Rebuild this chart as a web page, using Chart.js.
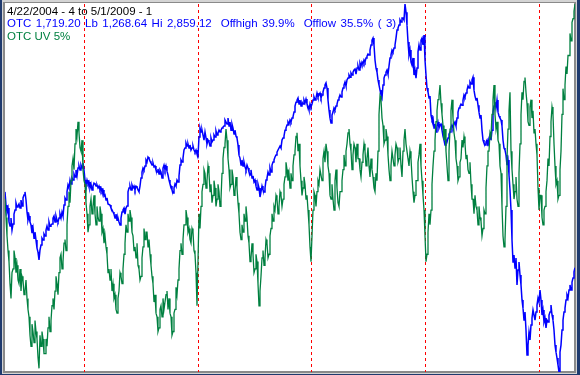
<!DOCTYPE html>
<html>
<head>
<meta charset="utf-8">
<script src="https://cdn.jsdelivr.net/npm/chart.js@4.4.1/dist/chart.umd.min.js"></script>
<style>
  html, body { margin: 0; padding: 0; background: #1f3a6e; }
  #wrap { position: relative; width: 580px; height: 375px; }
  canvas { position: absolute; left: 0; top: 0; }
  .lbl { position: absolute; left: 7px; font-family: "Liberation Sans", Arial, sans-serif; font-size: 11.5px; line-height: 12px; white-space: pre; }
</style>
</head>
<body>
<div id="wrap">
  <canvas id="otcChart" width="580" height="375"></canvas>
  <div class="lbl" id="l1" style="top:5px;color:#000">4/22/2004 - 4 to 5/1/2009 - 1</div>
  <div class="lbl" id="l2" style="top:17px;color:#0000ff;word-spacing:1.3px">OTC 1,719.20 Lb 1,268.64 Hi 2,859.12  Offhigh 39.9%  Offlow 35.5% ( 3)</div>
  <div class="lbl" id="l3" style="top:30px;color:#008040">OTC UV 5%</div>
</div>
<script>
// Periodo do grafico (anos decimais) e marcas de inicio de ano
const startYear = 2004.306;   // 4/22/2004
const endYear = 2009.32;      // fim da serie
const yearMarks = [2005, 2006, 2007, 2008, 2009];

// OTC (Nasdaq)
const otc = [
  2047,1990,1960,1977,1917,1900,1934,1882,1908,1951,1969,1999,1982,1986,1995,1977,2012,1986,2021,2034,
  2047,2012,1960,1925,1943,1917,1904,1869,1891,1847,1873,1839,1804,1787,1753,1796,1817,1847,1839,1865,
  1856,1882,1899,1882,1917,1899,1904,1908,1934,1943,1917,1943,1925,1917,1934,1951,1934,1960,1943,1990,
  2021,2012,2047,2077,2064,2098,2081,2107,2098,2124,2111,2142,2116,2150,2159,2142,2163,2150,2172,2142,
  2098,2077,2098,2081,2090,2064,2081,2055,2072,2085,2081,2072,2077,2064,2072,2055,2064,2047,2055,2029,
  2034,2012,2021,1995,1995,1990,1977,1969,1960,1951,1934,1951,1925,1934,1917,1904,1934,1960,1969,1977,
  1951,1977,1986,2047,2064,2072,2055,2077,2064,2072,2055,2072,2068,2055,2047,2072,2107,2133,2150,2142,
  2159,2185,2176,2198,2193,2180,2172,2163,2172,2155,2159,2142,2133,2146,2124,2142,2133,2107,2150,2163,
  2142,2159,2137,2120,2098,2081,2072,2055,2042,2064,2081,2072,2098,2090,2116,2163,2185,2176,2193,2228,
  2237,2258,2245,2254,2237,2250,2228,2237,2245,2228,2219,2228,2211,2202,2284,2323,2306,2314,2293,2271,
  2306,2280,2254,2271,2263,2245,2280,2263,2271,2293,2284,2310,2293,2301,2314,2306,2314,2323,2327,2332,
  2358,2349,2340,2366,2332,2349,2314,2340,2323,2297,2314,2288,2280,2250,2206,2193,2163,2185,2159,2176,
  2155,2142,2163,2150,2133,2120,2142,2107,2116,2090,2098,2072,2055,2081,2064,2025,2047,2072,2055,2047,
  2064,2098,2107,2133,2120,2150,2133,2163,2176,2185,2198,2206,2219,2228,2228,2245,2237,2271,2280,2288,
  2314,2323,2336,2349,2340,2358,2349,2366,2371,2392,2418,2435,2444,2453,2427,2444,2418,2435,2427,2444,
  2431,2448,2427,2418,2401,2427,2414,2427,2444,2457,2444,2453,2474,2457,2466,2474,2453,2466,2479,2496,
  2509,2518,2496,2444,2401,2366,2345,2379,2392,2410,2401,2418,2427,2444,2453,2466,2457,2479,2496,2509,
  2522,2505,2531,2539,2552,2543,2561,2552,2565,2574,2578,2556,2582,2591,2574,2604,2591,2608,2600,2617,
  2608,2626,2634,2643,2639,2660,2682,2703,2712,2682,2617,2582,2565,2531,2509,2487,2466,2453,2509,2539,
  2552,2565,2574,2556,2591,2626,2639,2660,2652,2669,2682,2712,2747,2755,2768,2790,2781,2799,2799,2790,
  2859.12,2824,2768,2695,2639,2660,2608,2595,2626,2552,2574,2539,2582,2652,2682,2660,2703,2712,2682,2725,
  2617,2552,2496,2479,2453,2461,2379,2358,2366,2323,2340,2306,2332,2349,2323,2336,2340,2314,2288,2271,
  2250,2271,2263,2280,2297,2306,2327,2336,2323,2340,2349,2332,2366,2392,2410,2418,2427,2422,2444,2466,
  2457,2474,2487,2505,2496,2522,2513,2531,2543,2487,2461,2444,2453,2422,2392,2366,2379,2314,2271,2258,
  2250,2263,2271,2245,2280,2293,2271,2314,2392,2418,2435,2410,2444,2392,2375,2366,2358,2332,2271,2237,
  2228,2206,2163,2185,2120,2055,1969,1839,1744,1774,1718,1761,1645,1709,1744,1688,1645,1580,1545,1493,
  1528,1450,1342,1385,1441,1407,1472,1502,1537,1515,1493,1528,1558,1588,1571,1623,1580,1515,1537,1485,
  1502,1459,1493,1485,1515,1528,1558,1515,1493,1450,1385,1355,1329,1299,1268.64,1355,1385,1450,1493,1528,
  1545,1580,1601,1588,1623,1645,1623,1657,1675,1701,1719.20
];

// OTC UV 5%
const uv = [
  47,42,37,33,30,24,20,27,28,33,31,27,29,25,24,28,22,26,25,21,
  22,25,20,17,15,10,7,13,11,8,14,11,9,4,1,10,7,11,9,5,
  5,9,7,12,15,11,14,18,20,17,22,26,24,21,27,31,32,28,30,35,
  36,33,40,45,49,46,52,56,58,55,62,66,64,68,65,61,60,63,55,52,
  51,46,43,38,40,45,47,43,45,48,43,40,45,42,41,45,43,38,39,35,
  37,34,32,27,28,25,28,22,24,20,21,17,16,20,22,27,26,24,28,32,
  35,40,38,43,41,44,42,38,37,33,34,31,35,29,28,25,26,31,34,39,
  36,38,38,34,36,32,29,26,24,19,21,16,15,11,12,17,18,15,20,17,
  17,21,22,17,20,16,15,10,11,16,17,23,21,25,28,33,35,32,36,40,
  40,44,42,38,39,36,35,39,38,33,32,27,18,30,43,39,45,49,51,55,
  54,50,52,56,54,49,51,46,48,52,50,45,47,51,49,45,47,54,58,61,
  62,66,63,58,55,50,51,55,53,48,49,53,50,46,43,38,36,40,38,43,
  41,45,42,37,35,30,31,35,32,27,28,32,30,24,18,22,26,31,33,29,
  31,36,35,31,32,37,39,43,41,45,44,48,47,43,45,49,48,45,47,51,
  53,57,55,52,54,50,54,52,56,59,60,64,65,60,62,56,52,48,50,53,
  51,47,48,44,40,34,30,37,44,49,48,45,49,52,51,55,55,52,58,60,
  57,62,60,56,54,48,47,51,47,44,52,55,50,46,45,49,49,52,55,59,
  56,60,62,65,66,62,60,55,59,62,61,57,62,58,58,55,53,57,59,62,
  60,56,58,61,56,53,58,55,53,50,49,54,52,60,70,75,74,69,67,62,
  63,66,64,59,55,52,56,60,60,56,59,62,61,57,58,61,56,53,60,63,
  66,62,62,58,56,60,58,53,49,46,48,52,52,57,59,62,56,52,48,44,
  37,30,32,38,43,40,44,51,56,60,63,68,71,74,75,78,73,70,67,63,
  66,60,56,52,60,66,71,74,69,65,63,58,56,52,53,57,58,63,61,64,
  62,58,59,55,54,57,51,47,47,43,48,45,44,40,45,42,41,37,39,44,
  43,50,56,60,60,65,64,70,74,78,70,66,68,63,62,56,54,45,37,34,
  36,45,58,66,71,76,60,55,51,47,49,53,47,45,54,62,70,76,74,79,
  80,76,73,68,67,72,74,69,71,65,66,62,59,50,44,48,48,42,40,44,
  45,49,52,58,56,64,68,72,70,62,56,51,52,47,48,55,60,70,77,74,
  78,83,81,86,86,92,90,95,96,98,100
];

function toPoints(values) {
  const step = (endYear - startYear) / (values.length - 1);
  return values.map((v, i) => ({ x: startYear + i * step, y: v }));
}

// Moldura estilo janela
const framePlugin = {
  id: 'frame',
  beforeDraw(chart) {
    const ctx = chart.ctx;
    ctx.save();
    ctx.fillStyle = '#1f3a6e';
    ctx.fillRect(0, 0, 580, 375);
    ctx.fillStyle = '#d4d4d4';
    ctx.fillRect(2, 0, 575, 374);
    ctx.fillStyle = '#8a8a8a';
    ctx.fillRect(3, 2, 573, 371);
    ctx.fillStyle = '#ffffff';
    ctx.fillRect(5, 3, 569, 368);
    ctx.restore();
  }
};

// Linhas tracejadas vermelhas no inicio de cada ano
const yearLinesPlugin = {
  id: 'yearLines',
  beforeDatasetsDraw(chart) {
    const ctx = chart.ctx;
    const xs = chart.scales.x;
    const area = chart.chartArea;
    ctx.save();
    ctx.strokeStyle = '#ff0000';
    ctx.lineWidth = 1;
    ctx.setLineDash([3, 3]);
    yearMarks.forEach(function(yr) {
      const px = Math.round(xs.getPixelForValue(yr)) + 0.5;
      ctx.beginPath();
      ctx.moveTo(px, area.top);
      ctx.lineTo(px, area.bottom);
      ctx.stroke();
    });
    ctx.restore();
  }
};

new Chart(document.getElementById('otcChart'), {
  type: 'line',
  data: {
    datasets: [{
      label: 'OTC UV 5%',
      data: toPoints(uv),
      borderColor: '#008040',
      borderWidth: 1.3,
      pointRadius: 0,
      tension: 0,
      yAxisID: 'y1',
      order: 0
    }, {
      label: 'OTC',
      data: toPoints(otc),
      borderColor: '#0000ff',
      borderWidth: 1.5,
      pointRadius: 0,
      tension: 0,
      yAxisID: 'y',
      order: 1
    }]
  },
  options: {
    responsive: false,
    animation: false,
    layout: { padding: { left: 5, right: 5, top: 4, bottom: 3 } },
    scales: {
      x: { type: 'linear', min: startYear, max: endYear, display: false },
      y: { min: 1268.64, max: 2859.12, display: false },
      y1: { min: 0, max: 100, display: false }
    },
    plugins: {
      legend: { display: false },
      tooltip: { enabled: false }
    }
  },
  plugins: [framePlugin, yearLinesPlugin]
});
</script>
</body>
</html>
